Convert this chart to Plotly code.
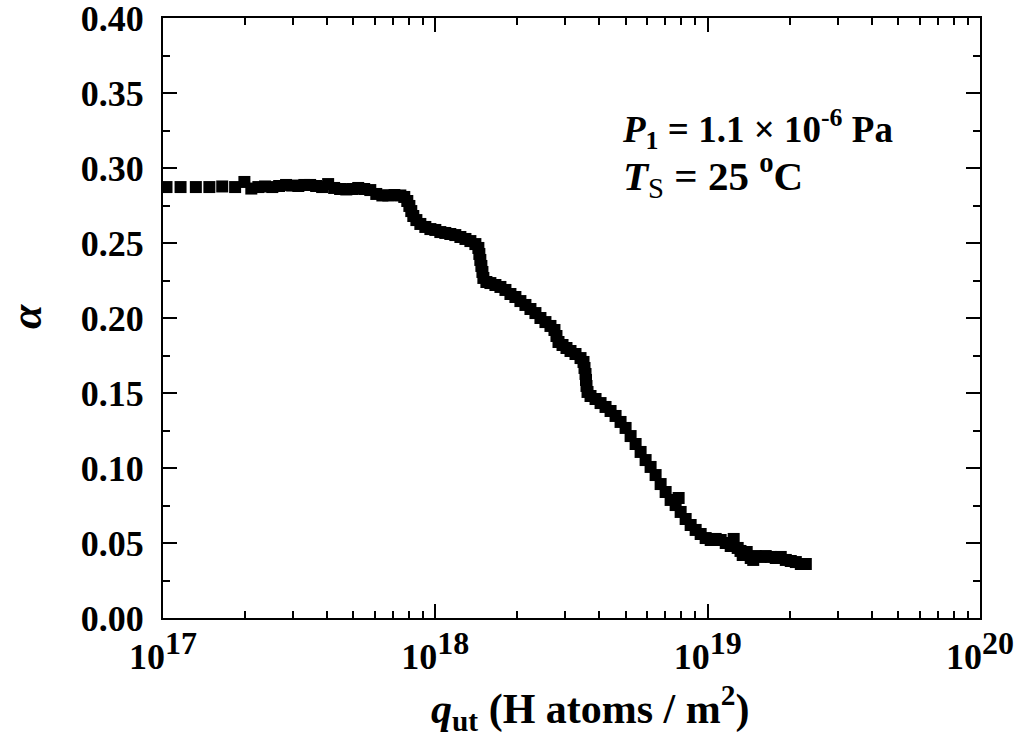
import plotly.graph_objects as go

# H exposure q_ut (H atoms / m^2) and measured alpha
q_ut = [
    1.03e17, 1.16e17, 1.32e17, 1.48e17, 1.65e17, 1.84e17, 1.99e17, 2.11e17,
    2.24e17, 2.37e17, 2.52e17, 2.67e17, 2.83e17, 2.98e17, 3.14e17, 3.30e17,
    3.47e17, 3.65e17, 3.84e17, 4.04e17, 4.25e17, 4.47e17, 4.71e17, 4.95e17,
    5.21e17, 5.48e17, 5.77e17, 6.07e17, 6.39e17, 6.72e17, 7.07e17, 7.44e17,
    7.69e17, 7.89e17, 8.03e17, 8.16e17, 8.30e17, 8.52e17, 8.81e17, 9.19e17,
    9.59e17, 1.000e18, 1.043e18, 1.088e18, 1.135e18, 1.184e18, 1.236e18,
    1.290e18, 1.345e18, 1.403e18, 1.439e18, 1.451e18, 1.463e18, 1.476e18,
    1.489e18, 1.501e18, 1.540e18, 1.593e18, 1.662e18, 1.734e18, 1.809e18,
    1.887e18, 1.968e18, 2.053e18, 2.142e18, 2.235e18, 2.331e18, 2.432e18,
    2.537e18, 2.647e18, 2.738e18, 2.785e18, 2.833e18, 2.931e18, 3.031e18,
    3.136e18, 3.271e18, 3.413e18, 3.500e18, 3.530e18, 3.560e18, 3.575e18,
    3.590e18, 3.621e18, 3.714e18, 3.875e18, 4.043e18, 4.217e18, 4.400e18,
    4.590e18, 4.788e18, 4.996e18, 5.212e18, 5.437e18, 5.672e18, 5.917e18,
    6.172e18, 6.439e18, 6.718e18, 7.008e18, 7.311e18, 7.627e18, 7.823e18,
    7.957e18, 8.301e18, 8.660e18, 9.034e18, 9.425e18, 9.832e18, 1.026e19,
    1.070e19, 1.116e19, 1.165e19, 1.215e19, 1.246e19, 1.289e19, 1.320e19,
    1.345e19, 1.391e19, 1.439e19, 1.470e19, 1.501e19, 1.566e19, 1.634e19,
    1.705e19, 1.778e19, 1.855e19, 1.936e19, 2.019e19, 2.107e19, 2.198e19,
    2.293e19,
]
alpha = [
    0.2873, 0.2873, 0.2873, 0.2873, 0.2877, 0.2873, 0.2907, 0.2863,
    0.2873, 0.2877, 0.2873, 0.2880, 0.2887, 0.2883, 0.2880, 0.2887,
    0.2887, 0.2880, 0.2873, 0.2893, 0.2867, 0.2860, 0.2857, 0.2860,
    0.2867, 0.2860, 0.2853, 0.2827, 0.2817, 0.2817, 0.2820, 0.2817,
    0.2807, 0.2780, 0.2747, 0.2713, 0.2680, 0.2653, 0.2627, 0.2607,
    0.2593, 0.2587, 0.2573, 0.2567, 0.2560, 0.2553, 0.2540,
    0.2527, 0.2513, 0.2493, 0.2467, 0.2427, 0.2387, 0.2347,
    0.2307, 0.2267, 0.2240, 0.2233, 0.2220, 0.2207, 0.2187,
    0.2160, 0.2140, 0.2113, 0.2087, 0.2060, 0.2033, 0.2000,
    0.1973, 0.1947, 0.1920, 0.1880, 0.1840, 0.1820, 0.1800,
    0.1780, 0.1760, 0.1733, 0.1707, 0.1667, 0.1627, 0.1587,
    0.1547, 0.1507, 0.1480, 0.1460, 0.1433, 0.1407, 0.1380,
    0.1347, 0.1307, 0.1267, 0.1213, 0.1160, 0.1107, 0.1053,
    0.1007, 0.0953, 0.0893, 0.0840, 0.0787, 0.0753, 0.0800,
    0.0707, 0.0660, 0.0620, 0.0587, 0.0560, 0.0533, 0.0520,
    0.0527, 0.0520, 0.0500, 0.0480, 0.0527, 0.0467, 0.0447,
    0.0420, 0.0440, 0.0400, 0.0387, 0.0413, 0.0407, 0.0413,
    0.0407, 0.0400, 0.0407, 0.0387, 0.0380, 0.0373, 0.0360,
    0.0360,
]

x_tickvals = [1e17, 1e18, 1e19, 1e20]
x_ticktext = ["10<sup><span style='font-size:32px'>%d</span></sup>" % e
              for e in (17, 18, 19, 20)]
y_tickvals = [0.00, 0.05, 0.10, 0.15, 0.20, 0.25, 0.30, 0.35, 0.40]
y_ticktext = ["%.2f" % v for v in y_tickvals]

FONT = "Liberation Serif, Times New Roman, serif"

fig = go.Figure()
fig.add_trace(go.Scatter(
    x=q_ut, y=alpha, mode="markers",
    marker=dict(symbol="square", size=12, color="black", line=dict(width=0)),
    showlegend=False, cliponaxis=True,
))

axis_common = dict(
    showline=True, linecolor="black", linewidth=2, mirror="allticks",
    ticks="inside", ticklen=14, tickwidth=2, tickcolor="black",
    showgrid=False, zeroline=False, ticklabeloverflow="allow",
    automargin=False,
    tickfont=dict(family=FONT, size=36, color="black", weight="bold"),
)

fig.update_xaxes(
    type="log", range=[17, 20],
    tickvals=x_tickvals, ticktext=x_ticktext,
    minor=dict(ticks="inside", ticklen=7, tickwidth=2, tickcolor="black",
               dtick="D1", showgrid=False),
    ticklabelstandoff=6,
    **axis_common,
)
fig.update_yaxes(
    range=[0, 0.40001],
    tickvals=y_tickvals, ticktext=y_ticktext,
    minor=dict(ticks="inside", ticklen=7, tickwidth=2, tickcolor="black",
               tickvals=[0.025, 0.075, 0.125, 0.175, 0.225, 0.275, 0.325, 0.375],
               showgrid=False),
    ticklabelstandoff=10,
    **axis_common,
)

conditions = ("<b><i>P</i><sub>1</sub> = 1.1 × 10<sup>-6</sup> Pa</b><br>"
              "<span style='font-size:41px'><b><i>T</i></b><sub>S</sub>"
              "<b> = 25 <sup>o</sup>C</b></span>")

annotations = [
    dict(text="<i>α</i>", xref="paper", yref="paper", x=-0.168, y=0.503,
         xanchor="center", yanchor="middle", textangle=-90, showarrow=False,
         font=dict(family=FONT, size=44, color="black", weight="bold")),
    dict(text="<i>q</i><sub>ut</sub> (H atoms / m<sup>2</sup>)",
         xref="paper", yref="paper", x=0.5226, y=-0.15,
         xanchor="center", yanchor="middle", showarrow=False,
         font=dict(family=FONT, size=42, color="black", weight="bold")),
    dict(text=conditions, xref="paper", yref="paper", x=0.559, y=0.775,
         xanchor="left", yanchor="middle", align="left", showarrow=False,
         font=dict(family=FONT, size=37, color="black")),
]

fig.update_layout(
    width=1018, height=744,
    margin=dict(l=163, r=38, t=18, b=126, autoexpand=False),
    paper_bgcolor="white", plot_bgcolor="white",
    annotations=annotations,
)

fig.write_html("out.html")
